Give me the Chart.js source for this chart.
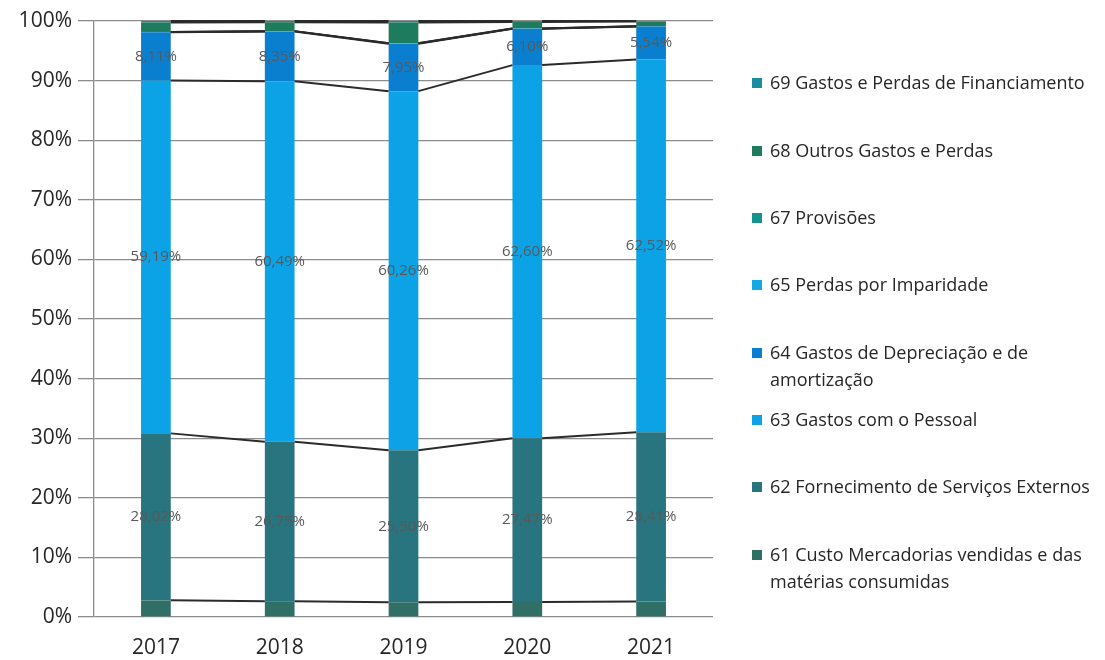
<!DOCTYPE html>
<html>
<head>
<meta charset="utf-8">
<script src="https://cdn.jsdelivr.net/npm/chart.js@4"></script>
<style>
    html, body { margin: 0; padding: 0; background: #fff; }
    #wrap { position: relative; width: 1105px; height: 660px; }
    #legend { position: absolute; left: 752px; top: 0; font-family: "Open Sans", "Noto Sans", sans-serif; font-size: 18px; color: #262626; }
    #legend div { position: absolute; width: 335px; line-height: 27px; padding-left: 18px; white-space: normal; }
    #legend i { position: absolute; left: 0; top: 9px; width: 10px; height: 10px; }
</style>
</head>
<body>
<div id="wrap">
    <canvas id="chart" width="1105" height="660"></canvas>
    <div id="legend"></div>
</div>
<script>
const years = ["2017", "2018", "2019", "2020", "2021"];
const seriesNames = [
    "61 Custo Mercadorias vendidas e das matérias consumidas",
    "62 Fornecimento de Serviços Externos",
    "63 Gastos com o Pessoal",
    "64 Gastos de Depreciação e de amortização",
    "65 Perdas por Imparidade",
    "67 Provisões",
    "68 Outros Gastos e Perdas",
    "69 Gastos e Perdas de Financiamento"
];
const custo61 = [2.79, 2.65, 2.47, 2.53, 2.59];
const fse62 = [28.02, 26.75, 25.50, 27.47, 28.41];
const pessoal63 = [59.19, 60.49, 60.26, 62.60, 62.52];
const depreciacao64 = [8.11, 8.35, 7.95, 6.10, 5.54];
const imparidade65 = [0.05, 0.06, 0.07, 0.05, 0.04];
const provisoes67 = [0, 0, 0, 0, 0];
const outros68 = [1.60, 1.50, 3.50, 1.10, 0.80];
const financiamento69 = [0.24, 0.20, 0.25, 0.15, 0.10];
const yTicks = [0, 10, 20, 30, 40, 50, 60, 70, 80, 90, 100];

const seriesValues = [custo61, fse62, pessoal63, depreciacao64, imparidade65, provisoes67, outros68, financiamento69];
const seriesColors = ["#2f6f66", "#28747f", "#0ca2e6", "#0b7fcf", "#14a9e2", "#13948f", "#1f7b5d", "#1a8ca0"];
const labelled = [false, true, true, true, false, false, false, false];

// series lines between the bars, like Excel's "linhas de série"
const seriesLines = {
    id: "seriesLines",
    afterDatasetsDraw(chart) {
        const ctx = chart.ctx;
        ctx.save();
        ctx.strokeStyle = "#2b2b2b";
        ctx.lineWidth = 2;
        chart.data.datasets.forEach((ds, d) => {
            const bars = chart.getDatasetMeta(d).data;
            for (let i = 0; i < bars.length - 1; i++) {
                const a = bars[i], b = bars[i + 1];
                ctx.beginPath();
                ctx.moveTo(a.x + a.width / 2, a.y);
                ctx.lineTo(b.x - b.width / 2, b.y);
                ctx.stroke();
            }
        });
        ctx.restore();
    }
};

const valueLabels = {
    id: "valueLabels",
    afterDatasetsDraw(chart) {
        const ctx = chart.ctx;
        ctx.save();
        ctx.font = "15px 'Liberation Sans Narrow', 'Open Sans', sans-serif";
        ctx.fillStyle = "#595959";
        ctx.textAlign = "center";
        ctx.textBaseline = "middle";
        chart.data.datasets.forEach((ds, d) => {
            if (!labelled[d]) return;
            chart.getDatasetMeta(d).data.forEach((bar, i) => {
                const mid = (bar.y + bar.base) / 2;
                ctx.fillText(ds.data[i].toFixed(2).replace(".", ",") + "%", bar.x, mid);
            });
        });
        ctx.restore();
    }
};

new Chart(document.getElementById("chart"), {
    type: "bar",
    data: {
        labels: years,
        datasets: seriesNames.map((name, i) => ({ label: name, data: seriesValues[i], backgroundColor: seriesColors[i], barPercentage: 0.48, categoryPercentage: 0.5 }))
    },
    options: {
        responsive: false,
        animation: false,
        layout: { padding: { top: 21, right: 392, left: 0, bottom: 0 } },
        plugins: { legend: { display: false }, tooltip: { enabled: false } },
        scales: {
            x: {
                stacked: true,
                grid: { display: false },
                border: { display: false },
                ticks: { color: "#262626", font: { family: "Open Sans", size: 21 }, padding: 10 },
                afterFit: (scale) => { scale.height = 43; }
            },
            y: {
                stacked: true,
                min: 0,
                max: 100,
                afterBuildTicks: (scale) => { scale.ticks = yTicks.map((v) => ({ value: v })); },
                ticks: { color: "#262626", font: { family: "Open Sans", size: 21 }, padding: 6, callback: (v) => v + "%" },
                grid: { color: "#8c8c8c", lineWidth: 1.3, tickLength: 16, drawTicks: true },
                border: { color: "#8c8c8c", width: 1.3 },
                afterFit: (scale) => { scale.width = 94; }
            }
        }
    },
    plugins: [seriesLines, valueLabels]
});

// legend, top entry is the last series
const legendTops = [555, 487, 420, 353, 285, 218, 151, 83];
document.getElementById("legend").innerHTML = seriesNames.map((name, i) =>
    `<div style="top:${legendTops[i] - 14}px"><i style="background:${seriesColors[i]}"></i>${name}</div>`).join("");
</script>
</body>
</html>
